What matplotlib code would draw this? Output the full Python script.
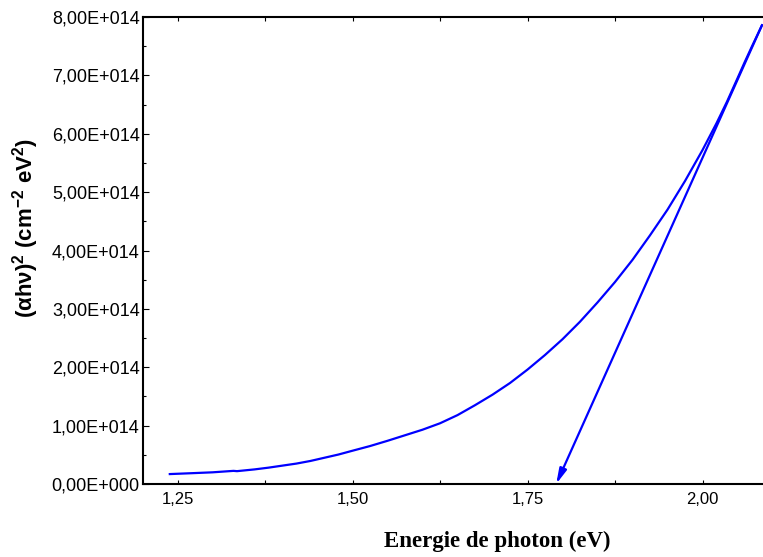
import matplotlib
matplotlib.use("Agg")
import matplotlib.pyplot as plt
from matplotlib.ticker import MultipleLocator, FixedLocator

plt.rcParams["mathtext.fontset"] = "custom"
plt.rcParams["mathtext.rm"] = "Liberation Sans:bold"
plt.rcParams["mathtext.it"] = "Liberation Sans:bold"
plt.rcParams["mathtext.bf"] = "Liberation Sans:bold"

# ---- data ----
energy = [1.239, 1.27, 1.30, 1.33, 1.335, 1.36, 1.38, 1.40, 1.42, 1.44,
          1.46, 1.48, 1.50, 1.525, 1.55, 1.575, 1.60, 1.625, 1.65, 1.675,
          1.70, 1.725, 1.75, 1.775, 1.80, 1.825, 1.85, 1.875, 1.90, 1.925,
          1.95, 1.975, 2.00, 2.02, 2.035, 2.05, 2.06, 2.07, 2.085]
alpha_hv2 = [0.17, 0.185, 0.20, 0.225, 0.22, 0.25, 0.28, 0.315, 0.35, 0.395,
             0.45, 0.505, 0.57, 0.65, 0.74, 0.835, 0.93, 1.04, 1.18, 1.35,
             1.53, 1.73, 1.96, 2.21, 2.48, 2.78, 3.11, 3.46, 3.84, 4.26,
             4.70, 5.19, 5.72, 6.18, 6.55, 6.95, 7.22, 7.48, 7.86]
alpha_hv2 = [v * 1e14 for v in alpha_hv2]

tangent_energy = [2.085, 1.791]
tangent_value = [7.86e14, 0.0]

x_ticks = [1.25, 1.50, 1.75, 2.00]
x_ticklabels = ["1,25", "1,50", "1,75", "2,00"]
y_ticks = [i * 1e14 for i in range(9)]
y_ticklabels = ["0,00E+000"] + [f"{i},00E+014" for i in range(1, 9)]

W, H = 763, 557
fig = plt.figure(figsize=(W / 100, H / 100), dpi=100)
ax = fig.add_axes([142.5 / W, (H - 484) / H, 630 / W, (484 - 17) / H])

ax.plot(energy, alpha_hv2, color="#0000ff", lw=1.6)
ax.annotate("", xy=(tangent_energy[1], tangent_value[1]),
            xytext=(tangent_energy[0], tangent_value[0]),
            arrowprops=dict(arrowstyle="-|>,head_length=0.9,head_width=0.22",
                            color="#0000ff", lw=1.6, shrinkA=0, shrinkB=0),
            annotation_clip=False)

ax.set_xlim(1.2, 2.1)
ax.set_ylim(0, 8e14)

ax.xaxis.set_major_locator(FixedLocator(x_ticks))
ax.set_xticklabels(x_ticklabels)
ax.xaxis.set_minor_locator(MultipleLocator(0.125))
ax.yaxis.set_major_locator(FixedLocator(y_ticks))
ax.set_yticklabels(y_ticklabels)
ax.yaxis.set_minor_locator(MultipleLocator(0.5e14))

for side in ["left", "bottom", "top"]:
    ax.spines[side].set_linewidth(1.5)
ax.spines["right"].set_visible(False)

ax.tick_params(axis="x", which="both", direction="in", top=True, length=3,
               width=0.8, pad=6, labelsize=12)
ax.tick_params(axis="y", which="major", direction="in", length=4, width=0.8,
               pad=2, labelsize=13)
ax.tick_params(axis="y", which="minor", direction="in", length=2, width=0.8)
for lab in ax.get_xticklabels() + ax.get_yticklabels():
    lab.set_fontfamily("Liberation Sans")

fig.text(497 / W, 1 - 541 / H, "Energie de photon (eV)", ha="center",
         va="center", fontsize=16.5, fontweight="bold",
         family="Liberation Serif")
fig.text(26 / W, 1 - 228 / H, r"$\mathrm{(αhν)^2\ (cm^{-2}\ eV^2)}$",
         ha="center", va="center", rotation=90, fontsize=16)

fig.savefig("out.png", dpi=100)
